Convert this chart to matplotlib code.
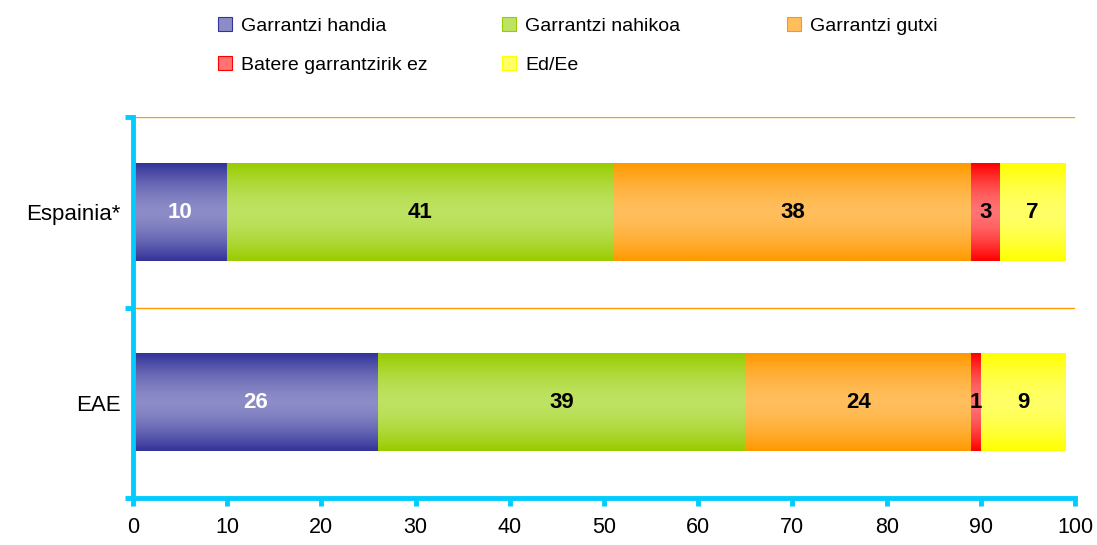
import numpy as np
import matplotlib.pyplot as plt
from matplotlib.patches import Patch
from matplotlib.colors import to_rgb

plt.rcParams['font.family'] = ['Liberation Sans', 'DejaVu Sans']

categories = ["EAE", "Espainia*"]
series = ["Garrantzi handia", "Garrantzi nahikoa", "Garrantzi gutxi",
          "Batere garrantzirik ez", "Ed/Ee"]
values = {
    "Garrantzi handia": [26, 10],
    "Garrantzi nahikoa": [39, 41],
    "Garrantzi gutxi": [24, 38],
    "Batere garrantzirik ez": [1, 3],
    "Ed/Ee": [9, 7],
}
xticks = [0, 10, 20, 30, 40, 50, 60, 70, 80, 90, 100]

# (edge colour, centre colour) for the vertical gradient
colors = {
    "Garrantzi handia": ("#333399", "#8c8cc8"),
    "Garrantzi nahikoa": ("#99cc00", "#bee262"),
    "Garrantzi gutxi": ("#ff9900", "#ffbe5c"),
    "Batere garrantzirik ez": ("#ff0000", "#ff7373"),
    "Ed/Ee": ("#ffff00", "#ffff66"),
}
text_colors = ["white", "black", "black", "black", "black"]

cyan = "#00ccff"
bar_h = 0.51

fig = plt.figure(figsize=(10.97, 5.45), dpi=100)
ax = fig.add_axes([0.1212, 0.0862, 0.8588, 0.699])

y = np.arange(len(categories))
t = np.abs(np.linspace(-1, 1, 64))[:, None]


def gradient(edge, centre):
    e, c = np.array(to_rgb(edge)), np.array(to_rgb(centre))
    w = t ** 1.6
    return (c * (1 - w) + e * w)[:, None, :].repeat(2, axis=1)


left = np.zeros(len(categories))
for s, tc in zip(series, text_colors):
    vals = np.array(values[s], dtype=float)
    edge, centre = colors[s]
    bars = ax.barh(y, vals, left=left, height=bar_h, color=centre, linewidth=0)
    img = gradient(edge, centre)
    for b in bars:
        x0, y0 = b.get_x(), b.get_y()
        ax.imshow(img, extent=(x0, x0 + b.get_width(), y0, y0 + b.get_height()),
                  aspect='auto', interpolation='bilinear', zorder=2)
        b.set_visible(False)
    for yi, v, l in zip(y, vals, left):
        ax.text(l + v / 2, yi, f"{v:g}", ha='center', va='center',
                fontsize=16, fontweight='bold', color=tc, zorder=3)
    left += vals

ax.set_xlim(0, 100)
ax.set_ylim(-0.5, 1.5)
ax.set_xticks(xticks)
ax.set_yticks(y)
ax.set_yticklabels(categories, fontsize=16)
ax.tick_params(axis='y', length=0, pad=9)
ax.set_yticks([-0.5, 0.5, 1.5], minor=True)
ax.tick_params(axis='y', which='minor', length=6, width=3.5, color=cyan)
ax.tick_params(axis='x', length=6, width=3.5, color=cyan, labelsize=15.5, pad=8)
for yy in [0.5, 1.5]:
    ax.axhline(yy, color="#ff9900", linewidth=1, zorder=1)

for side in ['top', 'right']:
    ax.spines[side].set_visible(False)
for side in ['left', 'bottom']:
    ax.spines[side].set_color(cyan)
    ax.spines[side].set_linewidth(3.5)

# legend laid out as three equal-width columns, filled row by row
columns = [[0, 3], [1, 4], [2]]
col_x = [218 / 1097, 502 / 1097, 787 / 1097]
for idx, cx in zip(columns, col_x):
    handles = [Patch(facecolor=colors[series[i]][1], edgecolor=colors[series[i]][0],
                     linewidth=0.8) for i in idx]
    fig.legend(handles, [series[i] for i in idx], loc='upper left',
               bbox_to_anchor=(cx, 0.968), borderaxespad=0, borderpad=0,
               frameon=False, fontsize=14, handlelength=0.7, handleheight=0.7,
               handletextpad=0.5, labelspacing=1.1)

fig.savefig("out.png", dpi=100)
